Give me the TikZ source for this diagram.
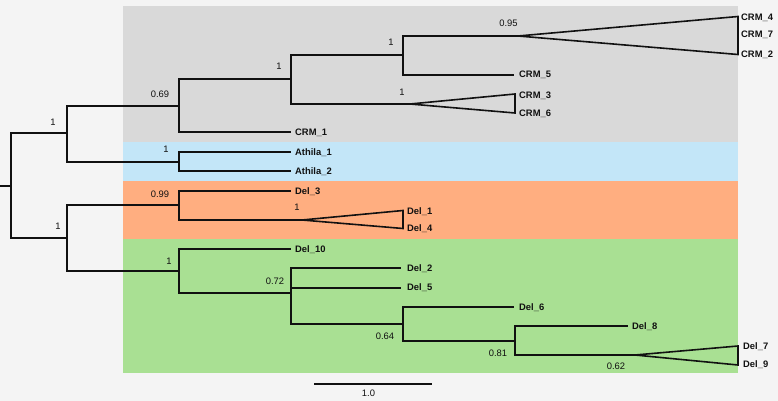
\documentclass[tikz,border=0pt]{standalone}
\usepackage{fontspec}
\setmainfont{Liberation Sans}
\definecolor{bgc}{HTML}{F4F4F4}
\definecolor{crmc}{HTML}{D9D9D9}
\definecolor{athc}{HTML}{C3E6F8}
\definecolor{delc}{HTML}{FFAE80}
\definecolor{grnc}{HTML}{A9E093}
\definecolor{treec}{HTML}{111111}
\tikzset{
  leaf/.style={anchor=base west, inner sep=0pt, yshift=-3.4pt, font=\bfseries\fontsize{9.4}{11}\selectfont, text=treec},
  supp/.style={anchor=base, inner sep=0pt, yshift=-3.3pt, font=\fontsize{9.4}{11}\selectfont, text=treec},
  br/.style={draw=treec, line width=1.6pt, line cap=rect},
  band/.style={draw=none}
}
\begin{document}
\begin{tikzpicture}[x=1pt,y=-1pt]
\fill[bgc] (0,0) rectangle (778,401);
\useasboundingbox (0,0) rectangle (778,401);
% bands
\fill[crmc] (123,6) rectangle (738,142);
\fill[athc] (123,142) rectangle (738,181);
\fill[delc] (123,181) rectangle (738,239);
\fill[grnc] (123,239) rectangle (738,373);
% internal nodes
\coordinate (R) at (11,186);
\coordinate (R0) at (0,186);
\coordinate (A) at (67,133);
\coordinate (B) at (179,106);
\coordinate (C) at (291,79);
\coordinate (D) at (403,55);
\coordinate (Ath) at (179,162);
\coordinate (E) at (67,238);
\coordinate (F) at (179,205);
\coordinate (G) at (179,271);
\coordinate (H) at (291,293);
\coordinate (I) at (403,324);
\coordinate (J) at (515,341);
% leaf ends
\coordinate (eCRM1) at (290,132);
\coordinate (eCRM5) at (513,75);
\coordinate (eAth1) at (290,152);
\coordinate (eAth2) at (290,171);
\coordinate (eDel3) at (290,191);
\coordinate (eDel10) at (290,249);
\coordinate (eDel2) at (400,268);
\coordinate (eDel5) at (400,288);
\coordinate (eDel6) at (513,307);
\coordinate (eDel8) at (627,326);
% triangle apices and corners
\coordinate (tA1) at (518,36);
\coordinate (tA1t) at (738,16.5);
\coordinate (tA1b) at (738,54.5);
\coordinate (tA2) at (410,104);
\coordinate (tA2t) at (515,94);
\coordinate (tA2b) at (515,113);
\coordinate (tA3) at (302,220);
\coordinate (tA3t) at (403,210.5);
\coordinate (tA3b) at (403,228.5);
\coordinate (tA4) at (635,355);
\coordinate (tA4t) at (738,346);
\coordinate (tA4b) at (738,365);
% branches
\draw[br] (R0) -- (R);
\draw[br] (R) |- (A);
\draw[br] (R) |- (E);
\draw[br] (A) |- (B);
\draw[br] (A) |- (Ath);
\draw[br] (B) |- (C);
\draw[br] (B) |- (eCRM1);
\draw[br] (C) |- (D);
\draw[br] (C) |- (tA2);
\draw[br] (D) |- (tA1);
\draw[br] (D) |- (eCRM5);
\draw[br] (Ath) |- (eAth1);
\draw[br] (Ath) |- (eAth2);
\draw[br] (E) |- (F);
\draw[br] (E) |- (G);
\draw[br] (F) |- (eDel3);
\draw[br] (F) |- (tA3);
\draw[br] (G) |- (eDel10);
\draw[br] (G) |- (H);
\draw[br] (H) |- (eDel2);
\draw[br] (H) |- (eDel5);
\draw[br] (H) |- (I);
\draw[br] (I) |- (eDel6);
\draw[br] (I) |- (J);
\draw[br] (J) |- (eDel8);
\draw[br] (J) |- (tA4);
% collapsed clades
\draw[br, line join=miter] (tA1) -- (tA1t) -- (tA1b) -- cycle;
\draw[br, line join=miter] (tA2) -- (tA2t) -- (tA2b) -- cycle;
\draw[br, line join=miter] (tA3) -- (tA3t) -- (tA3b) -- cycle;
\draw[br, line join=miter] (tA4) -- (tA4t) -- (tA4b) -- cycle;
% leaf labels
\node[leaf] (CRM4) at (741,17) {CRM\_4};
\node[leaf] (CRM7) at (741,34.5) {CRM\_7};
\node[leaf] (CRM2) at (741,54) {CRM\_2};
\node[leaf] (CRM5) at (519,74.5) {CRM\_5};
\node[leaf] (CRM3) at (519,95) {CRM\_3};
\node[leaf] (CRM6) at (519,113) {CRM\_6};
\node[leaf] (CRM1) at (295,132) {CRM\_1};
\node[leaf] (Ath1) at (295,152) {Athila\_1};
\node[leaf] (Ath2) at (295,171) {Athila\_2};
\node[leaf] (Del3) at (295,191) {Del\_3};
\node[leaf] (Del1) at (407,211) {Del\_1};
\node[leaf] (Del4) at (407,228.5) {Del\_4};
\node[leaf] (Del10) at (295,249) {Del\_10};
\node[leaf] (Del2) at (407,268) {Del\_2};
\node[leaf] (Del5) at (407,287.5) {Del\_5};
\node[leaf] (Del6) at (519,307) {Del\_6};
\node[leaf] (Del8) at (632,326) {Del\_8};
\node[leaf] (Del7) at (743,346) {Del\_7};
\node[leaf] (Del9) at (743,364) {Del\_9};
% support values
\node[supp] (sA) at (53,122) {1};
\node[supp] (sB) at (160,94) {0.69};
\node[supp] (sAth) at (166,149) {1};
\node[supp] (sF) at (160,194) {0.99};
\node[supp] (sE) at (58,226) {1};
\node[supp] (sG) at (169,261) {1};
\node[supp] (sC) at (279,66.5) {1};
\node[supp] (sD) at (391,42) {1};
\node[supp] (sT1) at (508.5,23.3) {0.95};
\node[supp] (sT2) at (402,92) {1};
\node[supp] (sT3) at (297,207) {1};
\node[supp] (sH) at (275,281.5) {0.72};
\node[supp] (sI) at (385,335.7) {0.64};
\node[supp] (sJ) at (498,353.5) {0.81};
\node[supp] (sT4) at (616,365.7) {0.62};
% scale bar
\coordinate (sb1) at (315,384);
\coordinate (sb2) at (431,384);
\draw[br] (sb1) -- (sb2);
\node[supp] (sbl) at (368.5,393.5) {1.0};
\end{tikzpicture}
\end{document}
